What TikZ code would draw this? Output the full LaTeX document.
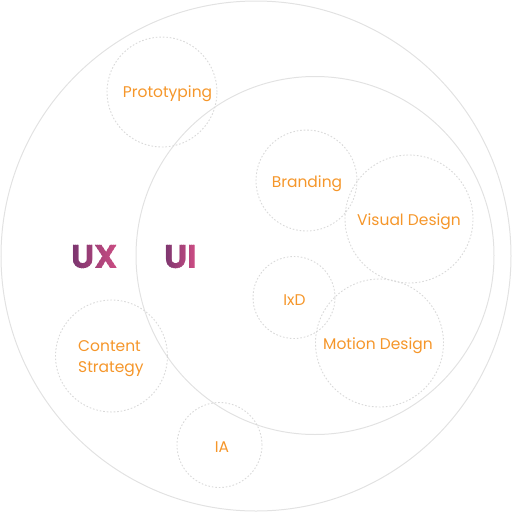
\documentclass[tikz,border=0pt]{standalone}
\usepackage{fontspec}
\setmainfont{Poppins}
\definecolor{ringgray}{HTML}{E2E2E2}
\definecolor{dotgray}{HTML}{D9D9D9}
\definecolor{topicorange}{HTML}{F5962A}
\definecolor{gradA}{HTML}{7A356F}
\definecolor{gradB}{HTML}{CD4D83}
\begin{document}
\begin{tikzpicture}[x=1pt,y=-1pt,
  ring/.style={draw=ringgray, line width=1pt},
  topic/.style={draw=dotgray, line width=0.9pt, dash pattern=on 1.6pt off 1.9pt, circle, inner sep=0pt},
  label/.style={text=topicorange, font=\fontsize{15.5}{20.5}\selectfont, inner sep=0pt},
  heading/.style={font=\fontsize{33}{33}\selectfont\bfseries, inner sep=0pt, anchor=base}]
\useasboundingbox (0,0) rectangle (512,512);
\draw[ring] (256,256) circle[radius=255];
\draw[ring] (315,255.5) circle[radius=179];
% dotted topic circles
\node[topic, minimum size=110pt] (cproto) at (162,92) {};
\node[topic, minimum size=101pt] (cbrand) at (306.5,180.5) {};
\node[topic, minimum size=128pt] (cvis) at (409,219) {};
\node[topic, minimum size=82pt] (cixd) at (294,297.5) {};
\node[topic, minimum size=128pt] (cmot) at (379.5,343) {};
\node[topic, minimum size=112pt] (ccont) at (111.5,356) {};
\node[topic, minimum size=85pt] (cia) at (219.5,445) {};
% labels
\node[label] (lproto) at (167.5,94) {Prototyping};
\node[label] (lbrand) at (307,184) {Branding};
\node[label] (lvis) at (409,222) {Visual Design};
\node[label] (lixd) at (294.5,300) {IxD};
\node[label] (lmot) at (378,346) {Motion Design};
\node[label, align=left, anchor=west] (lcont) at (78,358.5) {Content\\Strategy};
\node[label] (lia) at (222,447.5) {IA};
% gradient headings, drawn in vertical strips
\foreach \i in {0,...,23} {
  \pgfmathsetmacro\pc{100*\i/23}
  \begin{scope}
    \clip (71+\i*2,228) rectangle (73.3+\i*2,282);
    \node[heading, text=gradB!\pc!gradA] (ux\i) at (95,268) {UX};
  \end{scope}
}
\foreach \i in {0,...,16} {
  \pgfmathsetmacro\pc{100*\i/16}
  \begin{scope}
    \clip (163+\i*2,228) rectangle (165.3+\i*2,282);
    \node[heading, text=gradB!\pc!gradA] (ui\i) at (180.5,268) {UI};
  \end{scope}
}
\end{tikzpicture}
\end{document}
